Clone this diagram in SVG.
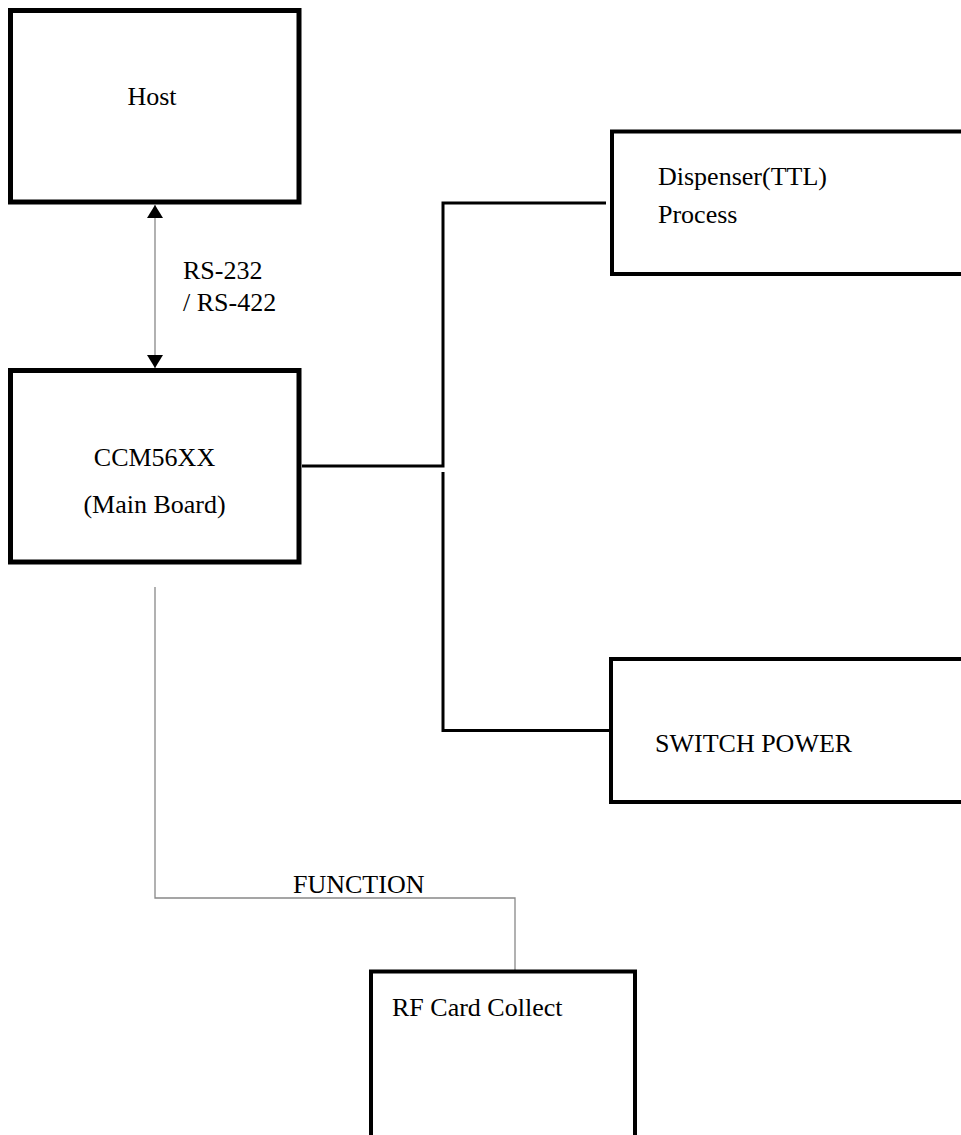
<svg xmlns="http://www.w3.org/2000/svg" width="961" height="1135" viewBox="0 0 961 1135">
  <style>
    .box { fill: #ffffff; stroke: #000000; }
    .thick { stroke-width: 5; }
    .mid { stroke-width: 4; }
    .lbl { font-family: "Liberation Serif", "Times New Roman", serif; font-size: 26px; fill: #000000; }
    .wire { fill: none; stroke: #000000; stroke-width: 3; }
    .thin { fill: none; stroke: #888888; stroke-width: 1.3; }
  </style>
  <defs>
    <marker id="arrow" viewBox="0 0 13 16" refX="13" refY="8" markerWidth="13" markerHeight="16" markerUnits="userSpaceOnUse" orient="auto-start-reverse">
      <path d="M0,0 L13,8 L0,16 z" fill="#000000"/>
    </marker>
  </defs>
  <rect width="961" height="1135" fill="#ffffff"/>

  <g id="connectors">
    <line class="thin" x1="155" y1="205" x2="155" y2="368" marker-start="url(#arrow)" marker-end="url(#arrow)"/>
    <polyline class="wire" points="302,466 443,466 443,203 606,203"/>
    <polyline class="wire" points="443,472 443,730.5 611,730.5"/>
    <polyline class="thin" points="155,587 155,898 515,898 515,971"/>
    <text class="lbl" x="183" y="279">RS-232</text>
    <text class="lbl" x="183" y="311">/ RS-422</text>
    <text class="lbl" x="293" y="893">FUNCTION</text>
  </g>

  <g id="host">
    <rect class="box thick" x="10.5" y="10.5" width="288.5" height="191.5"/>
    <text class="lbl" x="152" y="105" text-anchor="middle">Host</text>
  </g>

  <g id="ccm">
    <rect class="box thick" x="10.5" y="370.5" width="288.5" height="191.5"/>
    <text class="lbl" x="154.5" y="466" text-anchor="middle">CCM56XX</text>
    <text class="lbl" x="154.5" y="513" text-anchor="middle">(Main Board)</text>
  </g>

  <g id="dispenser">
    <rect class="box mid" x="612" y="131.5" width="400" height="142.5"/>
    <text class="lbl" x="658" y="185">Dispenser(TTL)</text>
    <text class="lbl" x="658" y="223">Process</text>
  </g>

  <g id="switch-power">
    <rect class="box mid" x="611" y="659" width="400" height="143"/>
    <text class="lbl" x="655" y="752">SWITCH POWER</text>
  </g>

  <g id="rf-card">
    <rect class="box mid" x="371" y="971.5" width="264" height="200"/>
    <text class="lbl" x="392" y="1016">RF Card Collect</text>
  </g>
</svg>
